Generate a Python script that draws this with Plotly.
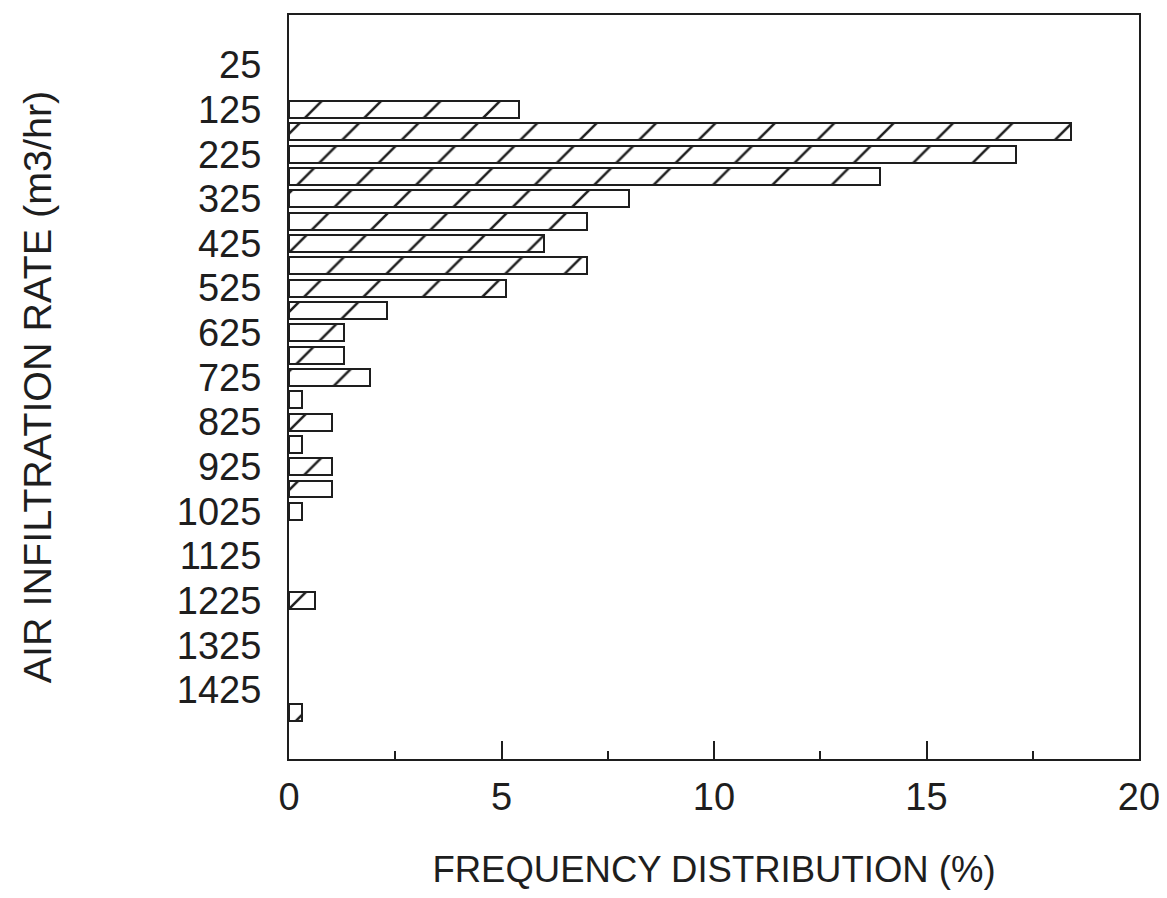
import plotly.graph_objects as go

# Data
rates = [125, 175, 225, 275, 325, 375, 425, 475, 525, 575, 625, 675, 725,
         775, 825, 875, 925, 975, 1025, 1225, 1475]
freq = [5.4, 18.4, 17.1, 13.9, 8.0, 7.0, 6.0, 7.0, 5.1, 2.3, 1.3, 1.3, 1.9,
        0.3, 1.0, 0.3, 1.0, 1.0, 0.3, 0.6, 0.3]
y_ticks = [25, 125, 225, 325, 425, 525, 625, 725, 825, 925, 1025, 1125,
           1225, 1325, 1425]
x_ticks = [0, 5, 10, 15, 20]
x_minor = [2.5, 7.5, 12.5, 17.5]

INK = "#1e1e1e"
FONT = "Liberation Sans, Arial, Helvetica, sans-serif"

fig = go.Figure()
fig.add_trace(go.Bar(
    x=freq, y=rates, orientation="h", width=38,
    marker=dict(
        color="white",
        line=dict(color=INK, width=2),
        pattern=dict(shape="/", size=42, solidity=0.06,
                     fgcolor=INK, bgcolor="white", fillmode="replace"),
    ),
    showlegend=False,
))

# page body has an 8px margin, so the figure is sized/offset to compensate
fig.update_layout(
    width=1157, height=882,
    margin=dict(l=281, r=26, t=7, b=131),
    paper_bgcolor="white", plot_bgcolor="white",
    font=dict(family=FONT, color=INK, size=38),
    bargap=0,
)
fig.update_xaxes(
    automargin=False,
    range=[0, 20], tickvals=x_ticks, ticktext=[str(v) for v in x_ticks],
    ticks="inside", ticklen=18, tickwidth=1.8, tickcolor=INK,
    minor=dict(ticks="inside", ticklen=8, tickwidth=1.8, tickcolor=INK,
               tickvals=x_minor),
    showline=True, linecolor=INK, linewidth=2, mirror=True,
    showgrid=False, zeroline=False,
    tickfont=dict(size=38), ticklabelstandoff=3, ticklabeloverflow="allow",
    title=dict(text="FREQUENCY DISTRIBUTION (%)", font=dict(size=36.5), standoff=53),
)
fig.update_yaxes(
    automargin=False,
    range=[1580, -87], tickvals=y_ticks, ticktext=[str(v) for v in y_ticks],
    ticks="", showline=True, linecolor=INK, linewidth=2, mirror=True,
    showgrid=False, zeroline=False,
    tickfont=dict(size=38), ticklabelstandoff=18,
    title=dict(text="AIR INFILTRATION RATE (m3/hr)", font=dict(size=39.5), standoff=113),
)

fig.write_html("out.html")
